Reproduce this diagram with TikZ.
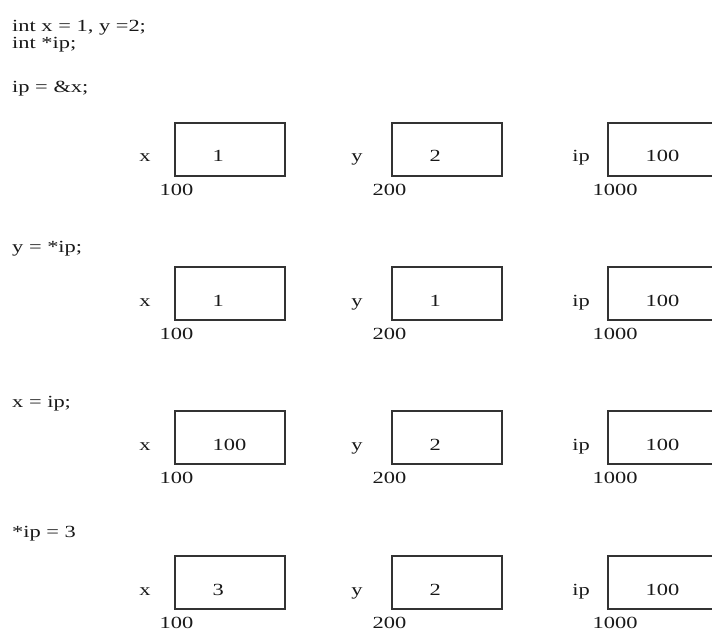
\documentclass[tikz,border=0pt]{standalone}
\usepackage{fontspec}
\setmainfont{Liberation Serif}[FakeStretch=1.32]
\begin{document}
\begin{tikzpicture}[x=1pt,y=-1pt,
    txt/.style={font=\fontsize{17}{19}\selectfont, inner sep=0pt, text=black!90},
    code/.style={txt, anchor=base west},
    cell/.style={draw=black!80, line width=1.2pt, minimum width=110pt, minimum height=53pt, inner sep=0pt},
    varname/.style={txt, anchor=base},
    val/.style={txt, anchor=base west},
    addr/.style={txt, anchor=base west}]
    \clip (0,0) rectangle (712,631);

    % Statements
    \node[code] (decl1) at (12,32) {int x = 1, y =2;};
    \node[code] (decl2) at (12,49) {int *ip;};
    \node[code] (stmt1) at (12,93) {ip = \&x;};
    \node[code] (stmt2) at (12,252) {y = *ip;};
    \node[code] (stmt3) at (12,407) {x = ip;};
    \node[code] (stmt4) at (12,537) {*ip = 3};

    % Memory after each statement
    \foreach \r/\cy/\xv/\yv in {1/149.5/1/2, 2/293.5/1/1, 3/437.5/100/2, 4/582.5/3/2} {
        \node[cell] (x\r) at (230,\cy) {};
        \node[cell] (y\r) at (447,\cy) {};
        \node[cell] (ip\r) at (663,\cy) {};

        \node[varname] (xn\r) at ([xshift=-85pt,yshift=-12.5pt]x\r.center) {x};
        \node[varname] (yn\r) at ([xshift=-90pt,yshift=-12.5pt]y\r.center) {y};
        \node[varname] (ipn\r) at ([xshift=-82pt,yshift=-12.5pt]ip\r.center) {ip};

        \node[val] (xv\r) at ([xshift=38pt,yshift=-12.5pt]x\r.west) {\xv};
        \node[val] (yv\r) at ([xshift=38pt,yshift=-12.5pt]y\r.west) {\yv};
        \node[val] (ipv\r) at ([xshift=38pt,yshift=-12.5pt]ip\r.west) {100};

        \node[addr] (xa\r) at ([xshift=-15pt,yshift=-19pt]x\r.south west) {100};
        \node[addr] (ya\r) at ([xshift=-19pt,yshift=-19pt]y\r.south west) {200};
        \node[addr] (ipa\r) at ([xshift=-15pt,yshift=-19pt]ip\r.south west) {1000};
    }
\end{tikzpicture}
\end{document}
